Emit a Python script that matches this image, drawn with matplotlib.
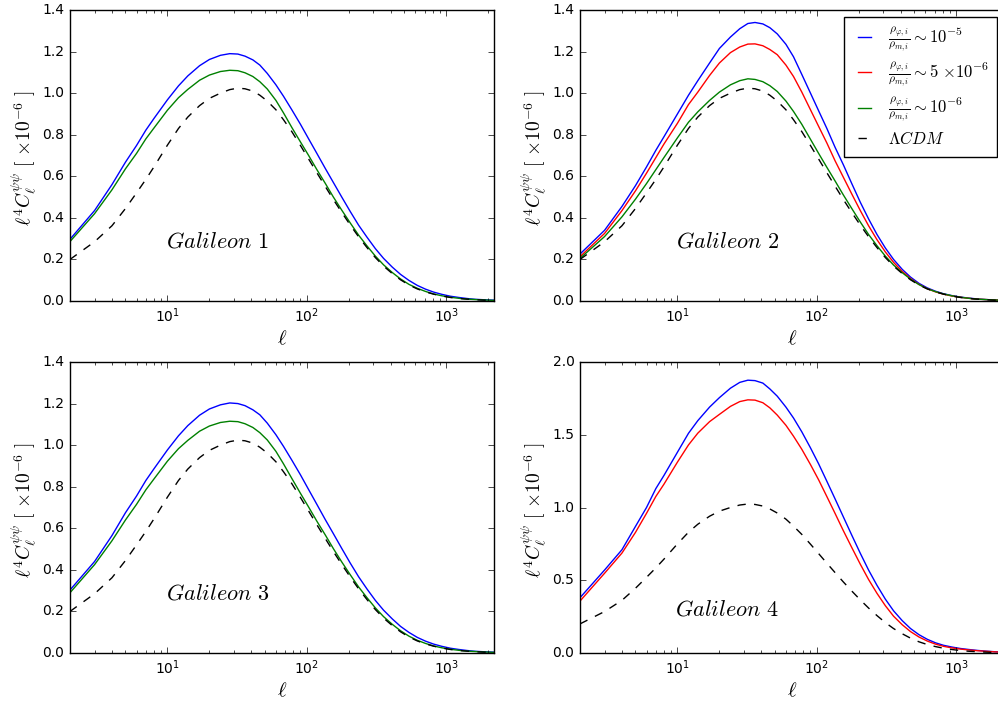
import matplotlib
matplotlib.use('Agg')
import matplotlib.pyplot as plt

ell = [2, 3, 4, 5, 6, 7, 8, 10, 12, 14, 17, 20, 24, 28, 32, 36, 41, 46, 52, 60, 68,
       78, 90, 103, 118, 135, 155, 178, 205, 235, 270, 310, 355, 410, 470, 540, 620,
       710, 810, 930, 1070, 1230, 1410, 1620, 1870, 2200]

lcdm = [0.200, 0.285, 0.362, 0.445, 0.520, 0.585, 0.645, 0.750, 0.830, 0.885, 0.940,
        0.975, 1.000, 1.017, 1.024, 1.021, 1.010, 0.990, 0.962, 0.920, 0.872, 0.815,
        0.748, 0.683, 0.617, 0.553, 0.488, 0.426, 0.365, 0.309, 0.257, 0.209, 0.168,
        0.132, 0.102, 0.077, 0.058, 0.044, 0.033, 0.024, 0.017, 0.012, 0.009, 0.006,
        0.004, 0.003]

g1_e5 = [0.297, 0.435, 0.560, 0.668, 0.748, 0.822, 0.878, 0.968, 1.035, 1.083, 1.132,
         1.162, 1.182, 1.190, 1.188, 1.178, 1.160, 1.135, 1.095, 1.040, 0.985, 0.920,
         0.850, 0.780, 0.710, 0.640, 0.570, 0.500, 0.430, 0.365, 0.307, 0.252, 0.205,
         0.163, 0.128, 0.099, 0.075, 0.057, 0.043, 0.032, 0.023, 0.017, 0.012, 0.008,
         0.006, 0.004]
g1_e6 = [0.286, 0.420, 0.535, 0.636, 0.710, 0.780, 0.832, 0.918, 0.978, 1.018, 1.062,
         1.087, 1.104, 1.110, 1.108, 1.098, 1.080, 1.055, 1.020, 0.965, 0.905, 0.835,
         0.765, 0.700, 0.632, 0.568, 0.500, 0.437, 0.375, 0.317, 0.265, 0.216, 0.174,
         0.137, 0.106, 0.080, 0.061, 0.046, 0.034, 0.025, 0.018, 0.013, 0.009, 0.007,
         0.005, 0.003]

g2_e5 = [0.226, 0.340, 0.455, 0.555, 0.645, 0.725, 0.790, 0.900, 0.990, 1.060, 1.145,
         1.215, 1.270, 1.310, 1.335, 1.340, 1.333, 1.315, 1.285, 1.235, 1.175, 1.090,
         1.000, 0.915, 0.830, 0.740, 0.655, 0.565, 0.475, 0.395, 0.320, 0.255, 0.200,
         0.152, 0.115, 0.085, 0.063, 0.047, 0.035, 0.026, 0.019, 0.014, 0.010, 0.007,
         0.005, 0.003]
g2_5e6 = [0.213, 0.325, 0.435, 0.530, 0.615, 0.690, 0.755, 0.855, 0.945, 1.005, 1.085,
          1.145, 1.195, 1.222, 1.236, 1.237, 1.228, 1.210, 1.185, 1.135, 1.080, 1.005,
          0.920, 0.840, 0.760, 0.675, 0.595, 0.515, 0.435, 0.362, 0.295, 0.236, 0.186,
          0.142, 0.108, 0.080, 0.059, 0.044, 0.033, 0.024, 0.018, 0.013, 0.009, 0.007,
          0.005, 0.003]
g2_e6 = [0.205, 0.310, 0.405, 0.490, 0.565, 0.632, 0.690, 0.785, 0.860, 0.910, 0.965,
         1.005, 1.040, 1.060, 1.069, 1.066, 1.055, 1.036, 1.008, 0.962, 0.912, 0.850,
         0.778, 0.710, 0.643, 0.578, 0.510, 0.445, 0.380, 0.320, 0.266, 0.216, 0.173,
         0.136, 0.105, 0.079, 0.059, 0.045, 0.034, 0.025, 0.018, 0.013, 0.009, 0.007,
         0.005, 0.003]

g3_e5 = [0.303, 0.440, 0.565, 0.675, 0.755, 0.830, 0.886, 0.977, 1.045, 1.094, 1.144,
         1.174, 1.194, 1.203, 1.200, 1.190, 1.170, 1.146, 1.106, 1.050, 0.994, 0.928,
         0.857, 0.786, 0.715, 0.644, 0.574, 0.503, 0.432, 0.367, 0.308, 0.253, 0.206,
         0.164, 0.128, 0.099, 0.075, 0.057, 0.043, 0.032, 0.023, 0.017, 0.012, 0.008,
         0.006, 0.004]
g3_e6 = [0.290, 0.425, 0.540, 0.640, 0.715, 0.785, 0.837, 0.923, 0.983, 1.023, 1.067,
         1.092, 1.109, 1.115, 1.113, 1.103, 1.085, 1.060, 1.025, 0.970, 0.910, 0.840,
         0.768, 0.702, 0.634, 0.570, 0.502, 0.438, 0.376, 0.318, 0.266, 0.217, 0.175,
         0.138, 0.107, 0.081, 0.061, 0.046, 0.034, 0.025, 0.018, 0.013, 0.009, 0.007,
         0.005, 0.003]

g4_e5 = [0.380, 0.570, 0.710, 0.870, 1.000, 1.130, 1.220, 1.380, 1.510, 1.597, 1.690,
         1.755, 1.820, 1.860, 1.875, 1.872, 1.855, 1.815, 1.765, 1.690, 1.615, 1.520,
         1.410, 1.300, 1.180, 1.060, 0.935, 0.810, 0.685, 0.570, 0.465, 0.370, 0.290,
         0.222, 0.168, 0.126, 0.094, 0.070, 0.053, 0.041, 0.031, 0.024, 0.018, 0.013,
         0.009, 0.006]
g4_5e6 = [0.357, 0.548, 0.687, 0.829, 0.960, 1.076, 1.160, 1.312, 1.430, 1.511, 1.590,
          1.640, 1.695, 1.728, 1.740, 1.738, 1.720, 1.685, 1.635, 1.565, 1.490, 1.400,
          1.295, 1.190, 1.075, 0.960, 0.840, 0.725, 0.610, 0.505, 0.410, 0.325, 0.253,
          0.194, 0.147, 0.110, 0.082, 0.061, 0.046, 0.035, 0.027, 0.021, 0.016, 0.012,
          0.008, 0.005]

panel_names = [r'$Galileon\ 1$', r'$Galileon\ 2$', r'$Galileon\ 3$', r'$Galileon\ 4$']
legend_labels = [r'$\frac{\rho_{\varphi,i}}{\rho_{m,i}}{\sim}10^{-5}$',
                 r'$\frac{\rho_{\varphi,i}}{\rho_{m,i}}{\sim}5\ {\times}10^{-6}$',
                 r'$\frac{\rho_{\varphi,i}}{\rho_{m,i}}{\sim}10^{-6}$',
                 r'$\Lambda CDM$']
ylabel_text = r'$\ell^4 C_\ell^{\psi\psi}\ [\ {\times}10^{-6}\ ]$'
xlabel_text = r'$\ell$'

plt.style.use('classic')
plt.rcParams.update({
    'figure.facecolor': 'white',
    'savefig.facecolor': 'white',
    'font.size': 10,
    'mathtext.fontset': 'dejavusans',
    'xtick.labelsize': 10,
    'ytick.labelsize': 10,
})

fig = plt.figure(figsize=(9.98, 7.02), dpi=100)
W, H = 998.0, 702.0
aw = 424 / W
ah = 291 / H
positions = [(70 / W, 1 - 301 / H), (580 / W, 1 - 301 / H),
             (70 / W, 1 - 653 / H), (580 / W, 1 - 653 / H)]

series = [
    [(g1_e5, 'b'), (g1_e6, 'g')],
    [(g2_e5, 'b'), (g2_5e6, 'r'), (g2_e6, 'g')],
    [(g3_e5, 'b'), (g3_e6, 'g')],
    [(g4_e5, 'b'), (g4_5e6, 'r')],
]
ylims = [1.4, 1.4, 1.4, 2.0]
text_y = [0.203, 0.203, 0.203, 0.151]

for i in range(4):
    ax = fig.add_axes([positions[i][0], positions[i][1], aw, ah])
    handles = []
    for vals, c in series[i]:
        h, = ax.plot(ell, vals, color=c, lw=1.0)
        handles.append(h)
    hd, = ax.plot(ell, lcdm, 'k--', lw=1.0)
    ax.set_xscale('log')
    ax.set_xlim(2, 2200)
    ax.set_ylim(0, ylims[i])
    if i == 3:
        ax.set_yticks([0.0, 0.5, 1.0, 1.5, 2.0])
    else:
        ax.set_yticks([0.0, 0.2, 0.4, 0.6, 0.8, 1.0, 1.2, 1.4])
    ax.tick_params(which='major', length=4, direction='in', top=True, right=True)
    ax.tick_params(which='minor', length=2, direction='in', top=True, right=True)
    ax.set_xlabel(xlabel_text, fontsize=15, math_fontfamily='cm', labelpad=2)
    ax.set_ylabel(ylabel_text, fontsize=14, math_fontfamily='cm')
    ax.yaxis.set_label_coords(-0.072, 0.49)
    ax.text(0.347, text_y[i], panel_names[i], transform=ax.transAxes,
            ha='center', va='center', fontsize=16, math_fontfamily='cm')
    if i == 1:
        leg = ax.legend([handles[0], handles[1], handles[2], hd], legend_labels,
                        loc='upper right', fontsize=12, handlelength=1.4,
                        handletextpad=0.7, borderpad=0.5, labelspacing=0.35,
                        fancybox=False, borderaxespad=0.4)
        leg.get_frame().set_edgecolor('k')
        for t in leg.get_texts():
            t.set_math_fontfamily('cm')

fig.savefig('out.png', dpi=100)
